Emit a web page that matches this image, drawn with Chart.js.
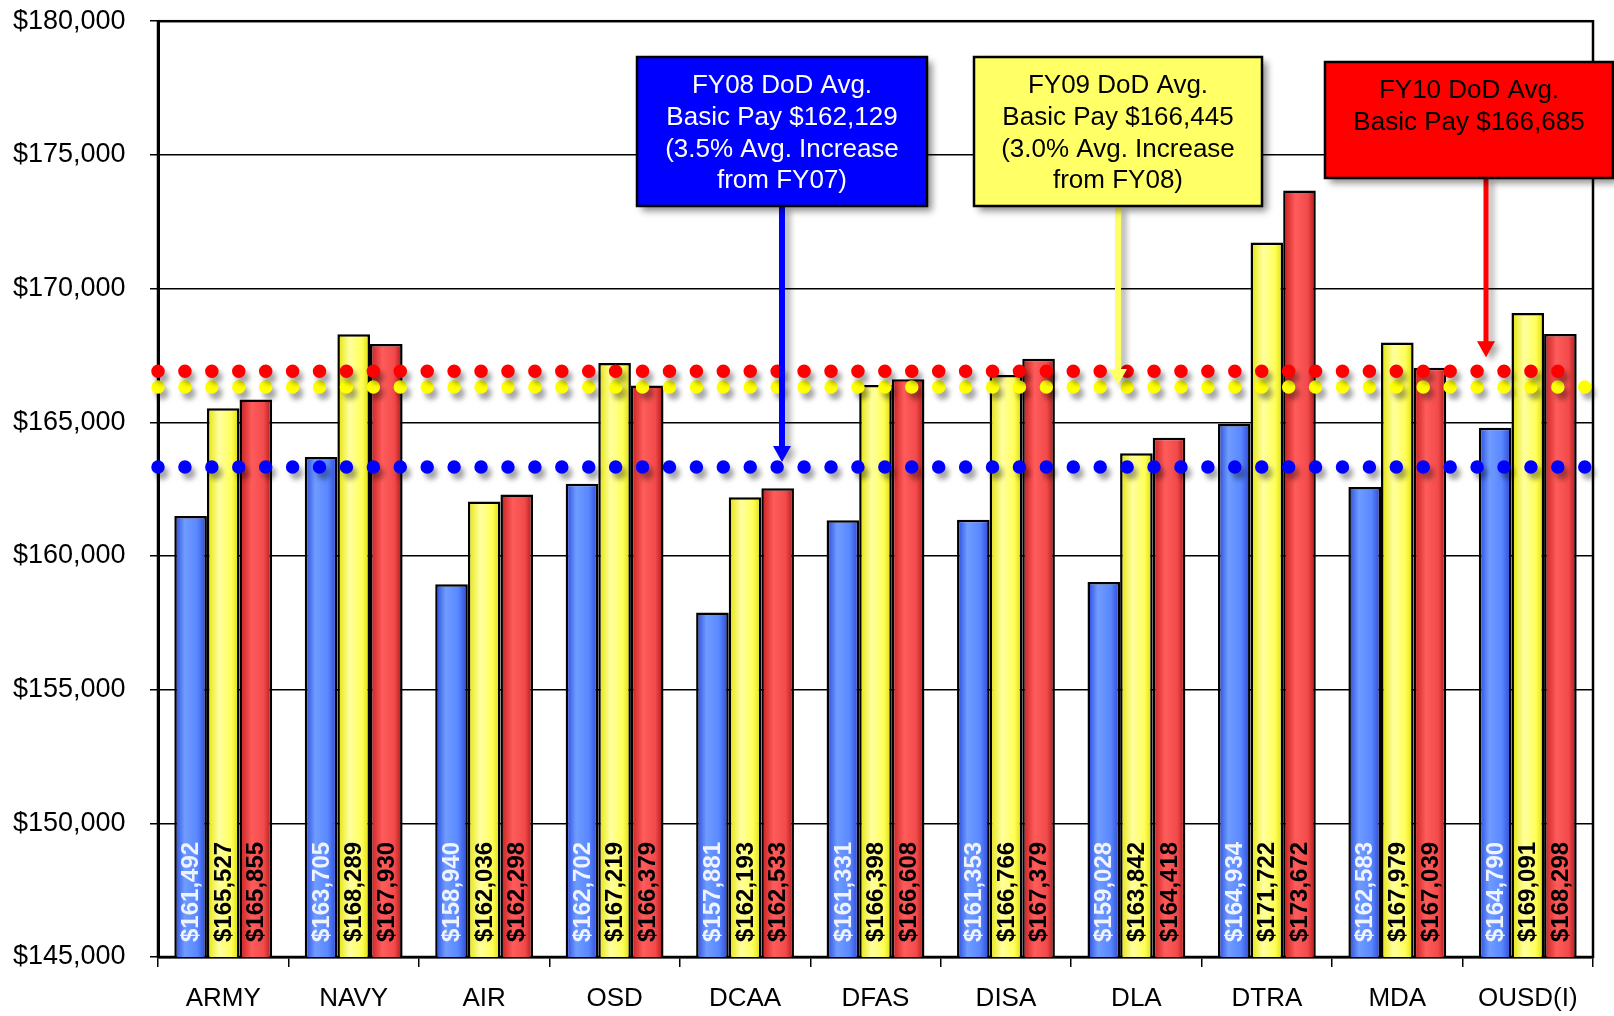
<!DOCTYPE html>
<html lang="en">
<head>
  <meta charset="UTF-8">
  <title>DoD Avg. Basic Pay FY08 - FY10</title>
  <script src="https://cdn.jsdelivr.net/npm/chart.js"></script>
  <style>
    html, body { margin: 0; padding: 0; background: #fff; }
    #wrap { width: 1614px; height: 1016px; }
  </style>
</head>
<body>

<div id="wrap"><canvas id="payChart" width="1614" height="1016"></canvas></div>

<script>
  // Components
  const categories = ['ARMY', 'NAVY', 'AIR', 'OSD', 'DCAA', 'DFAS', 'DISA', 'DLA', 'DTRA', 'MDA', 'OUSD(I)'];

  // Average basic pay per component (bar labels)
  const fy08Pay = [161492, 163705, 158940, 162702, 157881, 161331, 161353, 159028, 164934, 162583, 164790];
  const fy09Pay = [165527, 168289, 162036, 167219, 162193, 166398, 166766, 163842, 171722, 167979, 169091];
  const fy10Pay = [165855, 167930, 162298, 166379, 162533, 166608, 167379, 164418, 173672, 167039, 168298];

  // Dotted DoD average lines, levels as drawn in the picture (FY08, FY09, FY10)
  const avgLevels = [163330, 166320, 166910];
  // where each dotted line stops, in category units (-0.5 = left edge, 10.5 = right edge)
  const avgLineEnd = [10.5, 10.5, 10.3];

  // Y axis range
  const yMin = 145000;
  const yMax = 180000;
  const yStep = 5000;

  const FONT = "'Liberation Sans', Arial, sans-serif";
  Chart.defaults.font.family = FONT;
  Chart.defaults.color = '#000';

  const money = v => '$' + Number(v).toLocaleString('en-US');

  const barStops = [
    [[0, '#2746dc'], [0.32, '#6f9cff'], [0.7, '#5a88ff'], [1, '#2a45d6']],
    [[0, '#e3e300'], [0.38, '#ffffa0'], [0.75, '#ffff5a'], [1, '#dcdc00']],
    [[0, '#c41c1c'], [0.38, '#ff5c5c'], [0.75, '#f24a4a'], [1, '#ac1414']]
  ];
  const labelColors = ['#eef3ff', '#000', '#000'];

  // gradient bars + shadows under the dotted lines
  const stylePlugin = {
    id: 'style',
    beforeDatasetsDraw(chart) {
      const {ctx, chartArea: a} = chart;
      ctx.save();
      ctx.strokeStyle = '#000';
      ctx.lineWidth = 2.5;
      ctx.strokeRect(a.left, a.top, a.right - a.left, a.bottom - a.top);
      ctx.restore();
    },
    beforeDatasetDraw(chart, args) {
      const ctx = chart.ctx;
      if (args.meta.type === 'bar') {
        args.meta.data.forEach(el => {
          const g = ctx.createLinearGradient(el.x - el.width / 2, 0, el.x + el.width / 2, 0);
          barStops[args.index].forEach(s => g.addColorStop(s[0], s[1]));
          el.options = Object.assign({}, el.options, {backgroundColor: g});
        });
      } else {
        ctx.save();
        ctx.shadowColor = 'rgba(0,0,0,0.35)';
        ctx.shadowOffsetX = 4;
        ctx.shadowOffsetY = 6;
        ctx.shadowBlur = 5;
      }
    },
    afterDatasetDraw(chart, args) {
      if (args.meta.type !== 'bar') chart.ctx.restore();
    },
    afterDatasetsDraw(chart) {
      const ctx = chart.ctx;
      const base = chart.scales.y.getPixelForValue(yMin);
      [0, 1, 2].forEach(di => {
        const meta = chart.getDatasetMeta(di);
        meta.data.forEach((bar, i) => {
          ctx.save();
          ctx.translate(bar.x, base - 15);
          ctx.rotate(-Math.PI / 2);
          ctx.font = 'bold 24px ' + FONT;
          ctx.fillStyle = labelColors[di];
          ctx.textAlign = 'left';
          ctx.textBaseline = 'middle';
          ctx.fillText(money(chart.data.datasets[di].data[i]), 0, 1);
          ctx.restore();
        });
      });
    }
  };

  // callout boxes and arrows
  const callouts = [
    {box: [637, 57, 290, 149], fill: '#0000ff', text: '#ffffff', arrowX: 782, arrowW: 6, gap: 5,
     lines: ['FY08 DoD Avg.', 'Basic Pay $162,129', '(3.5% Avg. Increase', 'from FY07)']},
    {box: [974, 57, 288, 149], fill: '#ffff66', text: '#000000', arrowX: 1118, arrowW: 6, gap: 2,
     lines: ['FY09 DoD Avg.', 'Basic Pay $166,445', '(3.0% Avg. Increase', 'from FY08)']},
    {box: [1325, 62, 288, 116], fill: '#ff0000', text: '#000000', arrowX: 1486, arrowW: 5, gap: 14,
     lines: ['FY10 DoD Avg.', 'Basic Pay $166,685']}
  ];

  const calloutPlugin = {
    id: 'callouts',
    afterDraw(chart) {
      const ctx = chart.ctx;
      callouts.forEach((c, k) => {
        const [bx, by, bw, bh] = c.box;
        const tip = chart.scales.y.getPixelForValue(avgLevels[k]) - c.gap;
        const from = by + bh;
        // arrow
        ctx.save();
        ctx.shadowColor = 'rgba(0,0,0,0.35)';
        ctx.shadowOffsetX = 5;
        ctx.shadowOffsetY = 4;
        ctx.shadowBlur = 6;
        ctx.fillStyle = c.fill;
        ctx.beginPath();
        ctx.moveTo(c.arrowX - c.arrowW / 2, from);
        ctx.lineTo(c.arrowX + c.arrowW / 2, from);
        ctx.lineTo(c.arrowX + c.arrowW / 2, tip - 16);
        ctx.lineTo(c.arrowX + 9, tip - 16);
        ctx.lineTo(c.arrowX, tip);
        ctx.lineTo(c.arrowX - 9, tip - 16);
        ctx.lineTo(c.arrowX - c.arrowW / 2, tip - 16);
        ctx.closePath();
        ctx.fill();
        ctx.restore();

        // box
        ctx.save();
        ctx.shadowColor = 'rgba(0,0,0,0.45)';
        ctx.shadowOffsetX = 5;
        ctx.shadowOffsetY = 5;
        ctx.shadowBlur = 7;
        ctx.fillStyle = c.fill;
        ctx.fillRect(bx, by, bw, bh);
        ctx.restore();
        ctx.save();
        ctx.strokeStyle = '#000';
        ctx.lineWidth = 2.5;
        ctx.strokeRect(bx, by, bw, bh);
        ctx.font = '26px ' + FONT;
        ctx.fillStyle = c.text;
        ctx.textAlign = 'center';
        ctx.textBaseline = 'middle';
        c.lines.forEach((t, i) => ctx.fillText(t, bx + bw / 2, by + 29 + i * 31.7));
        ctx.restore();
      });
    }
  };

  // dotted line on the same category axis; parsing off so the half-category ends stay exact
  function dotLine(k, color) {
    return {
      type: 'line',
      xAxisID: 'x',
      yAxisID: 'y',
      parsing: false,
      data: [{x: -0.5, y: avgLevels[k]}, {x: avgLineEnd[k], y: avgLevels[k]}],
      borderColor: color,
      borderWidth: 13.5,
      borderDash: [0, 26.92],
      borderCapStyle: 'round',
      pointRadius: 0,
      fill: false,
      clip: false,
      order: 1
    };
  }

  const barCommon = {
    xAxisID: 'x',
    yAxisID: 'y',
    borderColor: '#000',
    borderWidth: 2.5,
    categoryPercentage: 0.75,
    barPercentage: 1.0,
    order: 2
  };

  new Chart(document.getElementById('payChart'), {
    type: 'bar',
    data: {
      labels: categories,
      datasets: [
        Object.assign({label: 'FY08', data: fy08Pay, backgroundColor: '#4f7df8'}, barCommon),
        Object.assign({label: 'FY09', data: fy09Pay, backgroundColor: '#ffff55'}, barCommon),
        Object.assign({label: 'FY10', data: fy10Pay, backgroundColor: '#ee4444'}, barCommon),
        dotLine(2, '#ff0000'),
        dotLine(1, '#ffff00'),
        dotLine(0, '#0000ff')
      ]
    },
    options: {
      responsive: false,
      animation: false,
      layout: {padding: {left: 13, top: 21, right: 21, bottom: 0}},
      plugins: {legend: {display: false}, tooltip: {enabled: false}},
      scales: {
        x: {
          type: 'category',
          offset: true,
          afterFit: s => { s.height = 59; },
          grid: {display: true, drawOnChartArea: false, offset: true, color: '#000', lineWidth: 1.5, tickLength: 10},
          border: {color: '#000', width: 2.5},
          ticks: {font: {size: 26}, padding: 16, color: '#000', maxRotation: 0}
        },
        y: {
          min: yMin,
          max: yMax,
          afterFit: s => { s.width = 145; },
          grid: {color: '#000', lineWidth: 1.5, tickLength: 8},
          border: {color: '#000', width: 3},
          ticks: {stepSize: yStep, font: {size: 27}, padding: 5, crossAlign: 'far', color: '#000', callback: v => money(v)}
        }
      }
    },
    plugins: [stylePlugin, calloutPlugin]
  });
</script>

</body>
</html>
